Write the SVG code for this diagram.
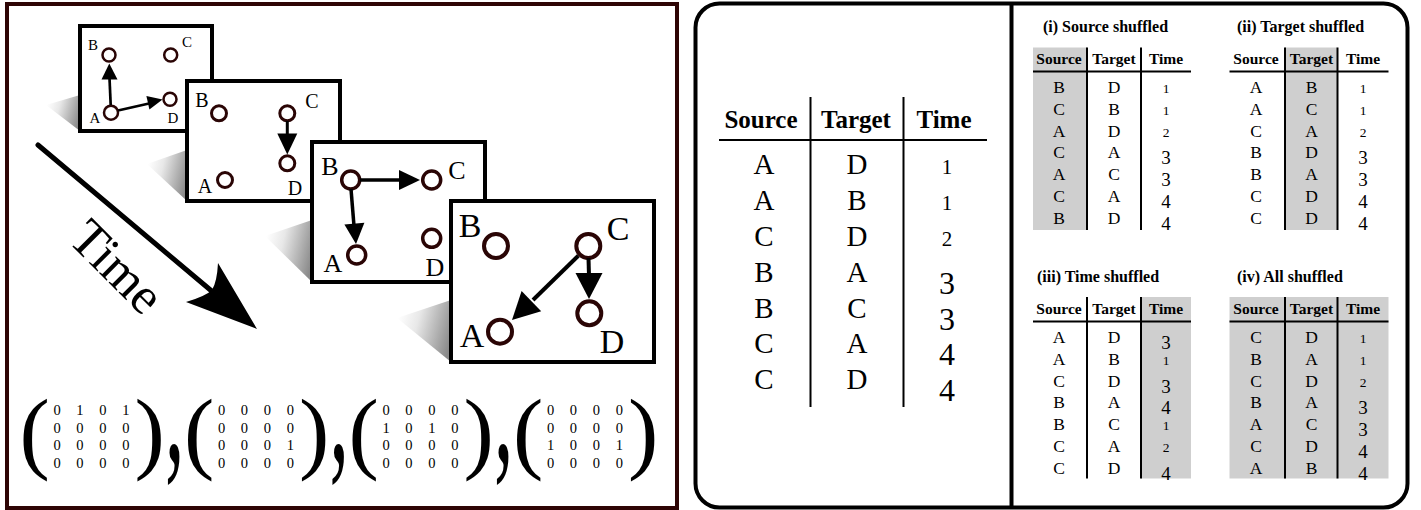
<svg xmlns="http://www.w3.org/2000/svg" width="1421" height="510" viewBox="0 0 1421 510">
<defs>
<linearGradient id="shd" x1="0" y1="0.35" x2="1" y2="0.65"><stop offset="0" stop-color="#ffffff"/><stop offset="0.35" stop-color="#e8e8e8"/><stop offset="1" stop-color="#8a8a8a"/></linearGradient>
<style>
.frame{fill:#fff;stroke:#000;stroke-width:4}
.node{fill:#fff;stroke:#2a0505}
.lbl{font-family:"Liberation Serif",serif;fill:#000;text-anchor:middle}
.edge{stroke:#000;fill:none}
.head{fill:#000}
.tx{font-family:"Liberation Serif",serif;text-anchor:middle;fill:#000}
.hd{font-family:"Liberation Serif",serif;font-weight:bold;text-anchor:middle;fill:#000}
.ttl{font-family:"Liberation Serif",serif;font-weight:bold;font-size:16px;fill:#000}
.rule{stroke:#000;stroke-width:2}
.gray{fill:#cfcfcf}
.mx{font-family:"Liberation Serif",serif;font-size:14.5px;word-spacing:12.1px;fill:#000}
.par{font-family:"Liberation Serif",serif;font-size:91px;fill:#000}
.cm{font-family:"Liberation Serif",serif;font-size:110px;fill:#000}
.L{font-size:29px}.N{font-size:21px}.D{font-size:32px}
.l{font-size:17.5px}.n{font-size:13.5px}.d{font-size:19px}
.sh{font-size:15.5px}
</style>
</defs>

<!-- panels -->
<rect x="7" y="4" width="670" height="504" fill="#fff" stroke="#2e0505" stroke-width="4"/>
<rect x="695.5" y="3.5" width="712" height="504" rx="24" fill="#fff" stroke="#000" stroke-width="4"/>
<line x1="1011.5" y1="3.5" x2="1011.5" y2="507.5" stroke="#000" stroke-width="4"/>

<!-- frame 1 -->
<g id="frame1">
<polygon points="46,105 80,95 80,131" fill="url(#shd)"/>
<rect class="frame" x="80" y="26" width="132" height="105"/>
<g id="f1-B"><circle class="node" cx="109" cy="55" r="6.5" stroke-width="2.5"/><text class="lbl" x="93" y="50" font-size="15">B</text></g>
<g id="f1-C"><circle class="node" cx="170.7" cy="55" r="6.5" stroke-width="2.5"/><text class="lbl" x="187" y="47" font-size="15">C</text></g>
<g id="f1-A"><circle class="node" cx="111" cy="112.7" r="7" stroke-width="2.5"/><text class="lbl" x="95" y="123" font-size="15">A</text></g>
<g id="f1-D"><circle class="node" cx="170" cy="99.3" r="6.5" stroke-width="2.5"/><text class="lbl" x="173" y="123" font-size="15">D</text></g>
</g>

<!-- frame 2 -->
<g id="frame2">
<polygon points="147,164 187,150 187,201" fill="url(#shd)"/>
<rect class="frame" x="187" y="81" width="153" height="120"/>
<g id="f2-B"><circle class="node" cx="219" cy="113.3" r="7.5" stroke-width="3"/><text class="lbl" x="202" y="106.6" font-size="20">B</text></g>
<g id="f2-C"><circle class="node" cx="287.3" cy="113.3" r="7.5" stroke-width="3"/><text class="lbl" x="312" y="108.3" font-size="20">C</text></g>
<g id="f2-A"><circle class="node" cx="225" cy="180" r="7.5" stroke-width="3"/><text class="lbl" x="205" y="193.3" font-size="20">A</text></g>
<g id="f2-D"><circle class="node" cx="287.3" cy="163.3" r="7.5" stroke-width="3"/><text class="lbl" x="295" y="195" font-size="20">D</text></g>
</g>

<!-- frame 3 -->
<g id="frame3">
<polygon points="265,236 312,220 312,282" fill="url(#shd)"/>
<rect class="frame" x="312" y="142" width="173" height="140"/>
<g id="f3-B"><circle class="node" cx="350.7" cy="180" r="9" stroke-width="3.5"/><text class="lbl" x="330" y="175.3" font-size="26">B</text></g>
<g id="f3-C"><circle class="node" cx="431.7" cy="180" r="9" stroke-width="3.5"/><text class="lbl" x="457" y="178.6" font-size="26">C</text></g>
<g id="f3-A"><circle class="node" cx="356.7" cy="255" r="9" stroke-width="3.5"/><text class="lbl" x="333" y="271.7" font-size="26">A</text></g>
<g id="f3-D"><circle class="node" cx="431.7" cy="238.3" r="9" stroke-width="3.5"/><text class="lbl" x="435" y="276" font-size="26">D</text></g>
</g>

<!-- frame 4 -->
<g id="frame4">
<polygon points="397,318 451,300 451,362" fill="url(#shd)"/>
<rect class="frame" x="451" y="201" width="203" height="161"/>
<g id="f4-B"><circle class="node" cx="496" cy="246" r="12" stroke-width="4"/><text class="lbl" x="470" y="237" font-size="34">B</text></g>
<g id="f4-C"><circle class="node" cx="588.3" cy="246" r="12" stroke-width="4"/><text class="lbl" x="618" y="240" font-size="34">C</text></g>
<g id="f4-A"><circle class="node" cx="500" cy="331.7" r="12" stroke-width="4"/><text class="lbl" x="472" y="347" font-size="34">A</text></g>
<g id="f4-D"><circle class="node" cx="589.3" cy="313.3" r="12" stroke-width="4"/><text class="lbl" x="612" y="353" font-size="34">D</text></g>
</g>

<!-- connectors -->
<g id="connectors">
<line class="edge" x1="110.7" y1="105" x2="109.5" y2="78" stroke-width="2.7"/>
<polygon class="head" points="109.3,63.5 101.5,79.5 117.5,79.5"/>
<line class="edge" x1="118" y1="110.5" x2="149" y2="103.5" stroke-width="2.7"/>
<polygon class="head" points="162.5,99.5 149.4,109.6 146.4,96"/>
<line class="edge" x1="287.3" y1="121" x2="287.3" y2="135" stroke-width="3"/>
<polygon class="head" points="287.3,154.5 277.3,133.5 297.3,133.5"/>
<line class="edge" x1="360" y1="180" x2="401" y2="180" stroke-width="3.5"/>
<polygon class="head" points="420,180 399,170 399,190"/>
<line class="edge" x1="351" y1="189" x2="354" y2="226" stroke-width="3.5"/>
<polygon class="head" points="356,244 364.4,222.8 344.4,224.4"/>
<line class="edge" x1="588.5" y1="258" x2="589" y2="276" stroke-width="4"/>
<polygon class="head" points="589,299 575.5,273 602.5,273"/>
<line class="edge" x1="578.3" y1="255.8" x2="533" y2="300" stroke-width="4"/>
<polygon class="head" points="512,320 521.6,291.1 541.2,311.3"/>
<!-- time arrow -->
<line x1="38" y1="145" x2="214" y2="293" stroke="#000" stroke-width="5" stroke-linecap="round"/>
<path d="M257,329 L186,302 Q206,296 212,290 Q217,282 218,263 Z" fill="#000"/>
</g>
<text class="lbl" transform="translate(117,267) rotate(45)" x="0" y="17" font-size="52">Time</text>

<!-- matrices -->
<g id="matrices">
<text class="par" x="19.6" y="461.5">(</text>
<text class="mx" x="53.4" y="415">0 1 0 1</text>
<text class="mx" x="53.4" y="432.5">0 0 0 0</text>
<text class="mx" x="53.4" y="450">0 0 0 0</text>
<text class="mx" x="53.4" y="467.5">0 0 0 0</text>
<text class="par" x="134.4" y="461.5">)</text>
<text class="cm" transform="translate(165,460) scale(0.7,1.45)">,</text>

<text class="par" x="184.1" y="461.5">(</text>
<text class="mx" x="217.9" y="415">0 0 0 0</text>
<text class="mx" x="217.9" y="432.5">0 0 0 0</text>
<text class="mx" x="217.9" y="450">0 0 0 1</text>
<text class="mx" x="217.9" y="467.5">0 0 0 0</text>
<text class="par" x="298.9" y="461.5">)</text>
<text class="cm" transform="translate(329.5,460) scale(0.7,1.45)">,</text>

<text class="par" x="348.6" y="461.5">(</text>
<text class="mx" x="382.4" y="415">0 0 0 0</text>
<text class="mx" x="382.4" y="432.5">1 0 1 0</text>
<text class="mx" x="382.4" y="450">0 0 0 0</text>
<text class="mx" x="382.4" y="467.5">0 0 0 0</text>
<text class="par" x="463.4" y="461.5">)</text>
<text class="cm" transform="translate(494,460) scale(0.7,1.45)">,</text>

<text class="par" x="513.1" y="461.5">(</text>
<text class="mx" x="546.9" y="415">0 0 0 0</text>
<text class="mx" x="546.9" y="432.5">0 0 0 0</text>
<text class="mx" x="546.9" y="450">1 0 0 1</text>
<text class="mx" x="546.9" y="467.5">0 0 0 0</text>
<text class="par" x="627.9" y="461.5">)</text>
</g>

<!-- main table -->
<g id="main-table">
<line class="rule" x1="810.5" y1="97" x2="810.5" y2="407"/>
<line class="rule" x1="903.5" y1="97" x2="903.5" y2="407"/>
<line class="rule" x1="719" y1="140" x2="987" y2="140"/>
<text class="hd" x="761" y="128" font-size="25">Source</text>
<text class="hd" x="856" y="128" font-size="25">Target</text>
<text class="hd" x="944" y="128" font-size="25">Time</text>
<text class="tx L" x="764" y="174.3">A</text><text class="tx L" x="857" y="174.3">D</text><text class="tx N" x="947" y="174.3">1</text>
<text class="tx L" x="764" y="210.1">A</text><text class="tx L" x="857" y="210.1">B</text><text class="tx N" x="947" y="210.1">1</text>
<text class="tx L" x="764" y="245.9">C</text><text class="tx L" x="857" y="245.9">D</text><text class="tx N" x="947" y="245.9">2</text>
<text class="tx L" x="764" y="281.7">B</text><text class="tx L" x="857" y="281.7">A</text><text class="tx D" x="947" y="293.7">3</text>
<text class="tx L" x="764" y="317.5">B</text><text class="tx L" x="857" y="317.5">C</text><text class="tx D" x="947" y="329.5">3</text>
<text class="tx L" x="764" y="353.3">C</text><text class="tx L" x="857" y="353.3">A</text><text class="tx D" x="947" y="365.3">4</text>
<text class="tx L" x="764" y="389.1">C</text><text class="tx L" x="857" y="389.1">D</text><text class="tx D" x="947" y="401.1">4</text>
</g>

<!-- (i) source shuffled -->
<g id="table-i">
<text class="ttl" x="1043" y="32">(i) Source shuffled</text>
<rect class="gray" x="1033" y="47.5" width="54" height="182.5"/>
<line class="rule" x1="1087" y1="47.5" x2="1087" y2="230"/>
<line class="rule" x1="1141" y1="47.5" x2="1141" y2="230"/>
<line class="rule" x1="1033" y1="71.5" x2="1191" y2="71.5"/>
<text class="hd sh" x="1059" y="64">Source</text><text class="hd sh" x="1114" y="64">Target</text><text class="hd sh" x="1166" y="64">Time</text>
<text class="tx l" x="1059" y="93.3">B</text><text class="tx l" x="1114" y="93.3">D</text><text class="tx n" x="1166" y="93.3">1</text>
<text class="tx l" x="1059" y="115">C</text><text class="tx l" x="1114" y="115">B</text><text class="tx n" x="1166" y="115">1</text>
<text class="tx l" x="1059" y="136.7">A</text><text class="tx l" x="1114" y="136.7">D</text><text class="tx n" x="1166" y="136.7">2</text>
<text class="tx l" x="1059" y="158.4">C</text><text class="tx l" x="1114" y="158.4">A</text><text class="tx d" x="1166" y="164.4">3</text>
<text class="tx l" x="1059" y="180.1">A</text><text class="tx l" x="1114" y="180.1">C</text><text class="tx d" x="1166" y="186.1">3</text>
<text class="tx l" x="1059" y="201.8">C</text><text class="tx l" x="1114" y="201.8">A</text><text class="tx d" x="1166" y="207.8">4</text>
<text class="tx l" x="1059" y="223.5">B</text><text class="tx l" x="1114" y="223.5">D</text><text class="tx d" x="1166" y="229.5">4</text>
</g>

<!-- (ii) target shuffled -->
<g id="table-ii">
<text class="ttl" x="1237" y="32">(ii) Target shuffled</text>
<rect class="gray" x="1285" y="47.5" width="52.5" height="182.5"/>
<line class="rule" x1="1285" y1="47.5" x2="1285" y2="230"/>
<line class="rule" x1="1337.5" y1="47.5" x2="1337.5" y2="230"/>
<line class="rule" x1="1229.5" y1="71.5" x2="1388.5" y2="71.5"/>
<text class="hd sh" x="1256" y="64">Source</text><text class="hd sh" x="1311.5" y="64">Target</text><text class="hd sh" x="1363" y="64">Time</text>
<text class="tx l" x="1256" y="93.3">A</text><text class="tx l" x="1311.5" y="93.3">B</text><text class="tx n" x="1363" y="93.3">1</text>
<text class="tx l" x="1256" y="115">A</text><text class="tx l" x="1311.5" y="115">C</text><text class="tx n" x="1363" y="115">1</text>
<text class="tx l" x="1256" y="136.7">C</text><text class="tx l" x="1311.5" y="136.7">A</text><text class="tx n" x="1363" y="136.7">2</text>
<text class="tx l" x="1256" y="158.4">B</text><text class="tx l" x="1311.5" y="158.4">D</text><text class="tx d" x="1363" y="164.4">3</text>
<text class="tx l" x="1256" y="180.1">B</text><text class="tx l" x="1311.5" y="180.1">A</text><text class="tx d" x="1363" y="186.1">3</text>
<text class="tx l" x="1256" y="201.8">C</text><text class="tx l" x="1311.5" y="201.8">D</text><text class="tx d" x="1363" y="207.8">4</text>
<text class="tx l" x="1256" y="223.5">C</text><text class="tx l" x="1311.5" y="223.5">D</text><text class="tx d" x="1363" y="229.5">4</text>
</g>

<!-- (iii) time shuffled -->
<g id="table-iii">
<text class="ttl" x="1037" y="282">(iii) Time shuffled</text>
<rect class="gray" x="1141" y="297" width="50" height="181.5"/>
<line class="rule" x1="1087" y1="297" x2="1087" y2="478.5"/>
<line class="rule" x1="1141" y1="297" x2="1141" y2="478.5"/>
<line class="rule" x1="1033" y1="321.5" x2="1191" y2="321.5"/>
<text class="hd sh" x="1059" y="314.3">Source</text><text class="hd sh" x="1114" y="314.3">Target</text><text class="hd sh" x="1166" y="314.3">Time</text>
<text class="tx l" x="1059" y="343.3">A</text><text class="tx l" x="1114" y="343.3">D</text><text class="tx d" x="1166" y="349.3">3</text>
<text class="tx l" x="1059" y="365">A</text><text class="tx l" x="1114" y="365">B</text><text class="tx n" x="1166" y="365">1</text>
<text class="tx l" x="1059" y="386.7">C</text><text class="tx l" x="1114" y="386.7">D</text><text class="tx d" x="1166" y="392.7">3</text>
<text class="tx l" x="1059" y="408.4">B</text><text class="tx l" x="1114" y="408.4">A</text><text class="tx d" x="1166" y="414.4">4</text>
<text class="tx l" x="1059" y="430.1">B</text><text class="tx l" x="1114" y="430.1">C</text><text class="tx n" x="1166" y="430.1">1</text>
<text class="tx l" x="1059" y="451.8">C</text><text class="tx l" x="1114" y="451.8">A</text><text class="tx n" x="1166" y="451.8">2</text>
<text class="tx l" x="1059" y="473.5">C</text><text class="tx l" x="1114" y="473.5">D</text><text class="tx d" x="1166" y="479.5">4</text>
</g>

<!-- (iv) all shuffled -->
<g id="table-iv">
<text class="ttl" x="1237" y="282">(iv) All shuffled</text>
<rect class="gray" x="1229.5" y="297" width="159" height="181.5"/>
<line class="rule" x1="1285" y1="297" x2="1285" y2="478.5"/>
<line class="rule" x1="1337.5" y1="297" x2="1337.5" y2="478.5"/>
<line class="rule" x1="1229.5" y1="321.5" x2="1388.5" y2="321.5"/>
<text class="hd sh" x="1256" y="314.3">Source</text><text class="hd sh" x="1311.5" y="314.3">Target</text><text class="hd sh" x="1363" y="314.3">Time</text>
<text class="tx l" x="1256" y="343.3">C</text><text class="tx l" x="1311.5" y="343.3">D</text><text class="tx n" x="1363" y="343.3">1</text>
<text class="tx l" x="1256" y="365">B</text><text class="tx l" x="1311.5" y="365">A</text><text class="tx n" x="1363" y="365">1</text>
<text class="tx l" x="1256" y="386.7">C</text><text class="tx l" x="1311.5" y="386.7">D</text><text class="tx n" x="1363" y="386.7">2</text>
<text class="tx l" x="1256" y="408.4">B</text><text class="tx l" x="1311.5" y="408.4">A</text><text class="tx d" x="1363" y="414.4">3</text>
<text class="tx l" x="1256" y="430.1">A</text><text class="tx l" x="1311.5" y="430.1">C</text><text class="tx d" x="1363" y="436.1">3</text>
<text class="tx l" x="1256" y="451.8">C</text><text class="tx l" x="1311.5" y="451.8">D</text><text class="tx d" x="1363" y="457.8">4</text>
<text class="tx l" x="1256" y="473.5">A</text><text class="tx l" x="1311.5" y="473.5">B</text><text class="tx d" x="1363" y="479.5">4</text>
</g>
</svg>
